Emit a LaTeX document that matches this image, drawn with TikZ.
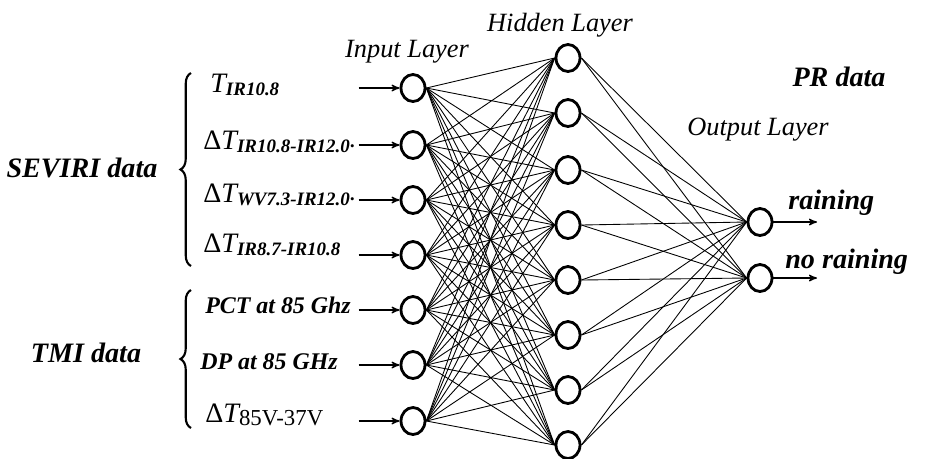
\documentclass[tikz,border=0pt]{standalone}
\usepackage{fontspec}
\setmainfont{Liberation Serif}
\usepackage{tikz}
\usetikzlibrary{arrows, shapes, positioning, decorations.pathreplacing}

% big T with a small subscript, as in the input labels
\newcommand{\biglab}[2]{{\fontsize{16}{18}\selectfont #1}\raisebox{-0.45ex}{\fontsize{10.8}{12}\selectfont\bfseries\itshape #2}}

\begin{document}
\begin{tikzpicture}[x=0.02cm,y=-0.02cm,>=stealth',
      neuron/.style={draw, ellipse, line width=1.6pt, fill=white, inner sep=0pt,
         minimum width=0.48cm, minimum height=0.54cm},
      link/.style={line width=0.5pt},
      feed/.style={->, line width=0.7pt},
      lab/.style={font=\fontsize{16}{18}\selectfont\bfseries\itshape, inner sep=0pt},
      layer/.style={font=\fontsize{15}{17}\selectfont\itshape, inner sep=0pt},
      inlab/.style={anchor=west, inner sep=0pt, font=\itshape},
      small/.style={inlab, font=\fontsize{13.6}{15}\selectfont\bfseries\itshape}]
  \useasboundingbox (0,0) rectangle (925,458);

  % input layer
  \foreach \i/\y in {1/88, 2/145, 3/200, 4/255, 5/310, 6/365, 7/421}
    \node [neuron] (in\i) at (413,\y) {};
  % hidden layer
  \foreach \j/\y in {1/58, 2/113, 3/170, 4/225, 5/280, 6/335, 7/390, 8/445}
    \node [neuron] (hid\j) at (568,\y) {};
  % output layer
  \node [neuron] (out1) at (760,222) {};
  \node [neuron] (out2) at (760,278) {};

  % connections
  \foreach \i in {1,...,7}
    \foreach \j in {1,...,8}
      \draw [link] (in\i.east) -- (hid\j.west);
  \foreach \j in {1,...,8}
    \foreach \k in {1,2}
      \draw [link] (hid\j.east) -- (out\k.west);

  % input arrows
  \foreach \i in {1,...,7}
    \draw [feed] (in\i.west) ++(-41,0) coordinate (src\i) -- (in\i.west);
  % output arrows
  \coordinate (dst1) at (817,222);
  \coordinate (dst2) at (817,278);
  \draw [feed] (out1.east) -- (dst1);
  \draw [feed] (out2.east) -- (dst2);

  % input labels
  \node [inlab] (t1) at (210,85) {\biglab{T}{IR10.8}};
  \node [inlab] (t2) at (203,142) {\biglab{\upshape Δ\itshape T}{IR10.8-IR12.0\textperiodcentered}};
  \node [inlab] (t3) at (203,195) {\biglab{\upshape Δ\itshape T}{WV7.3-IR12.0\textperiodcentered}};
  \node [inlab] (t4) at (203,245) {\biglab{\upshape Δ\itshape T}{IR8.7-IR10.8}};
  \node [small] (t5) at (205,305) {PCT at 85 Ghz};
  \node [small] (t6) at (200,362) {DP at 85 GHz};
  \node [inlab] (t7) at (205,415) {{\fontsize{16}{18}\selectfont\upshape Δ\itshape T}\raisebox{-0.45ex}{\fontsize{13}{14}\selectfont\upshape 85V-37V}};

  % braces and groups
  \draw [line width=1.2pt, decorate, decoration={brace, amplitude=6pt}]
    (191,266) -- (191,73);
  \draw [line width=1.2pt, decorate, decoration={brace, amplitude=6pt}]
    (191,428) -- (191,290);
  \node [lab] (seviri) at (82,168) {SEVIRI data};
  \node [lab] (tmi) at (86,353) {TMI data};

  % layer titles
  \node [layer] (inlayer) at (407,52) {Input Layer};
  \node [layer] (hidlayer) at (560,25) {Hidden Layer};
  \node [layer] (outlayer) at (758,130) {Output Layer};
  \node [lab] (pr) at (839,77) {PR data};
  \node [lab, anchor=west] (rain) at (788,203) {raining};
  \node [lab, anchor=west] (norain) at (785,262) {no raining};
\end{tikzpicture}
\end{document}
